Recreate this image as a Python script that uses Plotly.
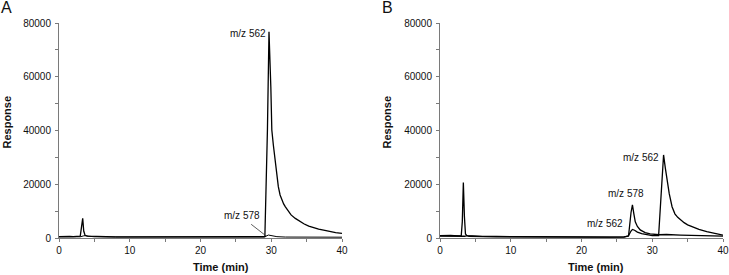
import plotly.graph_objects as go

# ---------------- data ----------------
# Panel A, m/z 562
a562_t = [0, 0.5, 1, 1.5, 2, 2.5, 3.0, 3.15, 3.35, 3.5, 3.7, 4.0, 5, 6, 8, 10, 12, 14, 16, 18, 20,
          22, 24, 26, 28, 29.1, 29.46, 29.68, 29.94, 30.08, 30.3, 30.5, 30.75, 31.0, 31.25, 31.5, 31.75,
          32.0, 32.4, 32.8, 33.4, 34.0, 34.6, 35.3, 36.0, 36.7, 37.4, 38.2, 39.1, 40]
a562_y = [500, 600, 450, 550, 500, 600, 700, 3500, 7300, 2500, 900, 700, 600, 500, 450, 400, 400, 350,
          350, 350, 350, 350, 350, 350, 400, 500, 40200, 76700, 56300, 40200, 34500, 30250, 24000, 19100,
          16000, 14000, 12700, 11600, 10000, 8600, 7300, 6200, 5300, 4450, 3800, 3300, 2900, 2400, 2000, 1750]
# Panel A, m/z 578
a578_t = [0, 2, 3, 3.5, 3.8, 4.1, 5, 8, 12, 16, 20, 24, 28, 29.0, 29.6, 30.1, 30.8, 32, 35, 40]
a578_y = [400, 400, 450, 800, 900, 700, 450, 350, 300, 300, 300, 300, 300, 350, 1100, 900, 500, 350, 300, 300]

# Panel B, m/z 562
b562_t = [0, 0.5, 1, 1.5, 2, 2.5, 3.0, 3.15, 3.3, 3.45, 3.6, 3.8, 4.2, 5, 6, 8, 10, 12, 14, 16, 18,
          20, 22, 24, 26, 26.6, 27.0, 27.2, 27.5, 27.9, 28.5, 29.2, 30, 30.9, 31.6, 31.85, 32.1, 32.4,
          32.8, 33.2, 33.6, 34.0, 34.5, 35.0, 35.8, 36.6, 37.7, 38.8, 40]
b562_y = [900, 1000, 850, 950, 900, 850, 800, 6000, 20600, 8000, 1500, 900, 800, 700, 600, 550, 500,
          450, 400, 400, 350, 350, 350, 350, 400, 700, 2600, 3200, 2900, 2200, 1600, 1200, 900, 900,
          30900, 26000, 21600, 16500, 11650, 9000, 7700, 6700, 5700, 4900, 4000, 3200, 2350, 1700, 1100]
# Panel B, m/z 578
b578_t = [0, 2, 3.5, 3.8, 4.1, 6, 10, 15, 20, 24, 26, 26.65, 27.0, 27.2, 27.4, 27.6, 27.9, 28.3, 29.0,
          29.7, 31, 32, 34, 36, 38, 40]
b578_y = [700, 650, 650, 900, 650, 500, 400, 350, 300, 300, 350, 800, 9500, 12300, 9000, 6000, 4300,
          3000, 2000, 1500, 1200, 1300, 1100, 900, 800, 700]

x_ticks = [0, 10, 20, 30, 40]
x_tick_labels = ["0", "10", "20", "30", "40"]
y_ticks = [0, 20000, 40000, 60000, 80000]
y_tick_labels = ["0", "20000", "40000", "60000", "80000"]

# ---------------- figure ----------------
W, H = 729, 275
FONT = "Liberation Sans, Arial, sans-serif"
AX = "#7a7a7a"

fig = go.Figure()
line_main = dict(color="black", width=1.3)
line_thin = dict(color="black", width=1)
fig.add_trace(go.Scatter(x=a578_t, y=a578_y, mode="lines", line=line_thin, xaxis="x", yaxis="y"))
fig.add_trace(go.Scatter(x=a562_t, y=a562_y, mode="lines", line=line_main, xaxis="x", yaxis="y"))
fig.add_trace(go.Scatter(x=b578_t, y=b578_y, mode="lines", line=line_main, xaxis="x2", yaxis="y2"))
fig.add_trace(go.Scatter(x=b562_t, y=b562_y, mode="lines", line=line_main, xaxis="x2", yaxis="y2"))


def xax(domain, anchor):
    return dict(domain=domain, anchor=anchor, range=[0, 40], tickmode="array",
                tickvals=x_ticks, ticktext=x_tick_labels, automargin=False,
                ticks="outside", ticklen=3, tickcolor=AX, tickwidth=1,
                minor=dict(dtick=5, tick0=0, ticks="outside", ticklen=3, tickcolor=AX),
                showline=True, linecolor=AX, linewidth=1, showgrid=False, zeroline=False,
                tickfont=dict(family=FONT, size=10, color="#111"))


def yax(anchor):
    return dict(domain=[(H - 238) / H, (H - 23) / H], anchor=anchor, range=[0, 80000],
                tickmode="array", tickvals=y_ticks, ticktext=y_tick_labels, automargin=False,
                ticks="outside", ticklen=3, tickcolor=AX, tickwidth=1,
                minor=dict(dtick=10000, tick0=0, ticks="outside", ticklen=3, tickcolor=AX),
                showline=True, linecolor=AX, linewidth=1, showgrid=False, zeroline=False,
                ticklabelstandoff=2,
                tickfont=dict(family=FONT, size=10, color="#111"))


fig.update_layout(
    template="none",
    width=W, height=H, margin=dict(l=0, r=0, t=0, b=0, autoexpand=False),
    paper_bgcolor="white", plot_bgcolor="white", showlegend=False,
    xaxis=xax([59 / W, 342 / W], "y"), yaxis=yax("x"),
    xaxis2=xax([440 / W, 723 / W], "y2"), yaxis2=yax("x2"),
)

ann_font = dict(family=FONT, size=10, color="#111")
title_font = dict(family=FONT, size=11, color="#111")
annotations = [
    # panel letters
    dict(text="A", x=6 / W, y=1 - 8 / H, font=dict(family=FONT, size=16, color="#111")),
    dict(text="B", x=387.5 / W, y=1 - 8 / H, font=dict(family=FONT, size=16, color="#111")),
    # axis titles
    dict(text="<b>Time (min)</b>", x=221 / W, y=1 - 267 / H, font=title_font),
    dict(text="<b>Time (min)</b>", x=595.5 / W, y=1 - 267 / H, font=title_font),
    dict(text="<b>Response</b>", x=6.5 / W, y=1 - 122 / H, textangle=-90, font=title_font),
    dict(text="<b>Response</b>", x=386.5 / W, y=1 - 122 / H, textangle=-90, font=title_font),
]
for a in annotations:
    a.update(xref="paper", yref="paper", showarrow=False, xanchor="center", yanchor="middle")

# peak labels
peak_labels = [
    dict(text="m/z 562", x=26.7, y=76000, xref="x", yref="y"),
    dict(text="m/z 578", x=25.9, y=8370, xref="x", yref="y"),
    dict(text="m/z 562", x=28.4, y=29840, xref="x2", yref="y2"),
    dict(text="m/z 578", x=26.3, y=16450, xref="x2", yref="y2"),
    dict(text="m/z 562", x=23.3, y=5280, xref="x2", yref="y2"),
]
for a in peak_labels:
    a.update(showarrow=False, xanchor="center", yanchor="middle", font=ann_font)
annotations += peak_labels
fig.update_layout(annotations=annotations)

# pointer line from "m/z 578" label to its peak in panel A
fig.add_shape(type="line", xref="x", yref="y", x0=27.16, y0=5100, x1=29.28, y1=740,
              line=dict(color="#333", width=0.8))

fig.write_html(
    "out.html",
    config={"displayModeBar": False, "staticPlot": True},
    post_script="document.body.style.margin='0';document.body.style.padding='0';"
                "document.body.style.overflow='hidden';",
)
